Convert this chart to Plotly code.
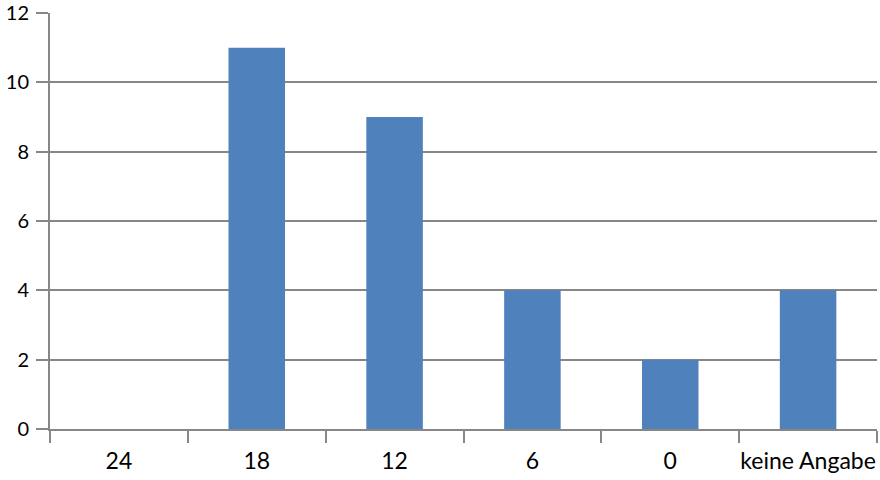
import plotly.graph_objects as go

categories = ["24", "18", "12", "6", "0", "keine Angabe"]
values = [0, 11, 9, 4, 2, 4]
y_ticks = [0, 2, 4, 6, 8, 10, 12]

grid = "#878787"
fig = go.Figure(go.Bar(x=categories, y=values, marker=dict(color="#4F81BD", line=dict(width=0)),
                       width=0.41))
fig.update_layout(
    width=880, height=480,
    margin=dict(l=50, r=3, t=13, b=51),
    paper_bgcolor="white", plot_bgcolor="white",
    font=dict(family="Lato, Carlito, Calibri, sans-serif", size=23, color="black"),
    showlegend=False,
)
fig.update_xaxes(
    type="category", range=[-0.5, 5.5], automargin=False, tickangle=0,
    showline=True, linecolor=grid, linewidth=2,
    ticks="outside", ticklen=12, tickwidth=2, tickcolor=grid, tickson="boundaries",
    showgrid=False, ticklabelstandoff=10,
)
fig.update_yaxes(
    range=[0, 12], tickvals=y_ticks, automargin=False,
    tickfont=dict(size=20),
    showline=True, linecolor=grid, linewidth=2,
    ticks="outside", ticklen=12, tickwidth=2, tickcolor=grid,
    showgrid=True, gridcolor=grid, gridwidth=2,
    zeroline=False, ticklabelstandoff=3,
)
fig.write_html("out.html", config={"displayModeBar": False},
               post_script="document.body.style.margin='0';")
